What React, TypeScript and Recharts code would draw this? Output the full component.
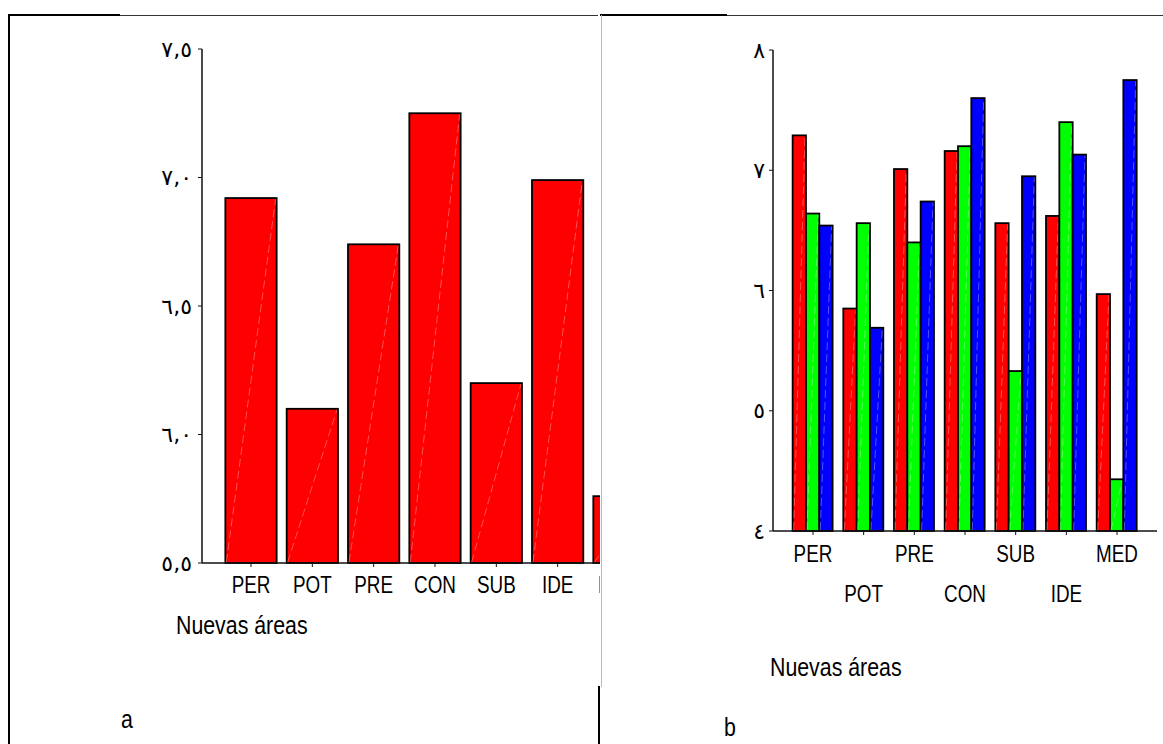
import { Bar, BarChart, XAxis, YAxis } from "recharts";

const categories = ["PER", "POT", "PRE", "CON", "SUB", "IDE", "MED"];

// panel a: single series
const meanValues = [6.92, 6.1, 6.74, 7.25, 6.2, 6.99, 5.76];
const leftTicks = [5.5, 6, 6.5, 7, 7.5];
const leftTickLabels = ["٥,٥", "٦,٠", "٦,٥", "٧,٠", "٧,٥"];

// panel b: three series
const redValues = [7.29, 5.85, 7.01, 7.16, 6.56, 6.62, 5.97];
const greenValues = [6.64, 6.56, 6.4, 7.2, 5.33, 7.4, 4.43];
const blueValues = [6.54, 5.69, 6.74, 7.6, 6.95, 7.13, 7.75];
const rightTicks = [4, 5, 6, 7, 8];
const rightTickLabels = ["٤", "٥", "٦", "٧", "٨"];

const leftData = categories.map((name, i) => ({ name, value: meanValues[i] }));
const rightData = categories.map((name, i) => ({
  name,
  red: redValues[i],
  green: greenValues[i],
  blue: blueValues[i],
}));

const sans = "'Liberation Sans', Arial, sans-serif";
const arabic = "'DejaVu Sans', sans-serif";
const axisColor = "#111";
const squeeze = 0.82; // the original uses a narrow Arial

function BarShape(props: any) {
  const { x, y, width, height, fill } = props;
  if (!height || height <= 0) return null;
  return (
    <g>
      <rect x={x} y={y} width={width} height={height} fill={fill} stroke="#000" strokeWidth={1.8} />
      <line
        x1={x + 1}
        y1={y + height - 1}
        x2={x + width - 1}
        y2={y + 1}
        stroke="#fff"
        strokeOpacity={0.4}
        strokeWidth={0.8}
        strokeDasharray="8 4"
      />
    </g>
  );
}

function yTick(labels: string[], ticks: number[]) {
  return (props: any) => {
    const { x, y, payload } = props;
    const idx = ticks.indexOf(payload.value);
    return (
      <text x={x} y={y} textAnchor="end" dominantBaseline="central" fontFamily={arabic} fontSize={22} fill="#000">
        {labels[idx]}
      </text>
    );
  };
}

function NarrowText({ x, y, children }: { x: number; y: number; children: any }) {
  return (
    <text
      transform={`translate(${x},${y}) scale(${squeeze},1)`}
      textAnchor="middle"
      fontFamily={sans}
      fontSize={23}
      fill="#000"
    >
      {children}
    </text>
  );
}

function LeftXTick(props: any) {
  const { x, y, payload } = props;
  return <NarrowText x={x} y={y + 26}>{payload.value}</NarrowText>;
}

function RightXTick(props: any) {
  const { x, y, payload, index } = props;
  const dy = index % 2 === 0 ? 27 : 67;
  return <NarrowText x={x} y={y + dy}>{payload.value}</NarrowText>;
}

const caption: React.CSSProperties = {
  position: "absolute",
  fontFamily: sans,
  fontSize: 26,
  color: "#000",
  lineHeight: 1,
  whiteSpace: "nowrap",
  transform: `scaleX(${squeeze})`,
  transformOrigin: "left top",
};

export default function App() {
  return (
    <div
      style={{
        position: "absolute",
        left: 0,
        top: 0,
        width: 1163,
        height: 744,
        background: "#fff",
        overflow: "hidden",
      }}
    >
      {/* frame lines */}
      <div style={{ position: "absolute", left: 8, top: 15, width: 2, height: 729, background: "#000" }} />
      <div style={{ position: "absolute", left: 8, top: 14, width: 112, height: 2, background: "#000" }} />
      <div style={{ position: "absolute", left: 120, top: 15, width: 478, height: 1, background: "#333" }} />
      <div style={{ position: "absolute", left: 600, top: 14, width: 127, height: 2, background: "#000" }} />
      <div style={{ position: "absolute", left: 727, top: 15, width: 436, height: 1, background: "#333" }} />
      <div style={{ position: "absolute", left: 601, top: 15, width: 1, height: 672, background: "#bbb" }} />
      <div style={{ position: "absolute", left: 598, top: 686, width: 2, height: 58, background: "#000" }} />

      {/* panel a */}
      <div style={{ position: "absolute", left: 0, top: 0, width: 600, height: 620, overflow: "hidden" }}>
        <BarChart
          width={700}
          height={620}
          data={leftData}
          margin={{ top: 49, right: 32, bottom: 0, left: 0 }}
          barSize={51.3}
        >
          <XAxis
            dataKey="name"
            interval={0}
            padding={{ left: 18.35, right: 18.35 }}
            height={57}
            tickSize={4}
            tickMargin={0}
            tick={LeftXTick}
            axisLine={{ stroke: axisColor, strokeWidth: 1.5 }}
            tickLine={{ stroke: axisColor }}
          />
          <XAxis
            xAxisId="top"
            dataKey="name"
            orientation="top"
            height={0}
            tick={false}
            tickLine={false}
            axisLine={{ stroke: axisColor, strokeWidth: 1.5 }}
          />
          <YAxis
            domain={[5.5, 7.5]}
            ticks={leftTicks}
            width={202}
            tickSize={4}
            tickMargin={6}
            tick={yTick(leftTickLabels, leftTicks)}
            axisLine={{ stroke: axisColor, strokeWidth: 1.5 }}
            tickLine={{ stroke: axisColor }}
          />
          <YAxis
            yAxisId="r"
            orientation="right"
            domain={[5.5, 7.5]}
            width={0}
            tick={false}
            tickLine={false}
            axisLine={{ stroke: axisColor, strokeWidth: 1.5 }}
          />
          <Bar dataKey="value" fill="#ff0000" shape={BarShape} isAnimationActive={false} />
        </BarChart>
      </div>
      <div style={{ ...caption, left: 176, top: 612 }}>Nuevas áreas</div>
      <div style={{ ...caption, left: 121, top: 706 }}>a</div>

      {/* panel b */}
      <div style={{ position: "absolute", left: 600, top: 0, width: 563, height: 620 }}>
        <BarChart
          width={563}
          height={620}
          data={rightData}
          margin={{ top: 50, right: 6, bottom: 0, left: 0 }}
          barSize={13.33}
          barGap={0}
        >
          <XAxis
            dataKey="name"
            interval={0}
            padding={{ left: 14.64, right: 14.64 }}
            height={89}
            tickSize={4}
            tickMargin={0}
            tick={RightXTick}
            axisLine={{ stroke: axisColor, strokeWidth: 1.5 }}
            tickLine={{ stroke: axisColor }}
          />
          <XAxis
            xAxisId="top"
            dataKey="name"
            orientation="top"
            height={0}
            tick={false}
            tickLine={false}
            axisLine={{ stroke: axisColor, strokeWidth: 1.5 }}
          />
          <YAxis
            domain={[4, 8]}
            ticks={rightTicks}
            width={173}
            tickSize={4}
            tickMargin={4}
            tick={yTick(rightTickLabels, rightTicks)}
            axisLine={{ stroke: axisColor, strokeWidth: 1.5 }}
            tickLine={{ stroke: axisColor }}
          />
          <YAxis
            yAxisId="r"
            orientation="right"
            domain={[4, 8]}
            width={0}
            tick={false}
            tickLine={false}
            axisLine={{ stroke: axisColor, strokeWidth: 1.5 }}
          />
          <Bar dataKey="red" fill="#ff0000" shape={BarShape} isAnimationActive={false} />
          <Bar dataKey="green" fill="#00ff00" shape={BarShape} isAnimationActive={false} />
          <Bar dataKey="blue" fill="#0000ff" shape={BarShape} isAnimationActive={false} />
        </BarChart>
      </div>
      <div style={{ ...caption, left: 770, top: 654 }}>Nuevas áreas</div>
      <div style={{ ...caption, left: 724, top: 714 }}>b</div>
    </div>
  );
}
